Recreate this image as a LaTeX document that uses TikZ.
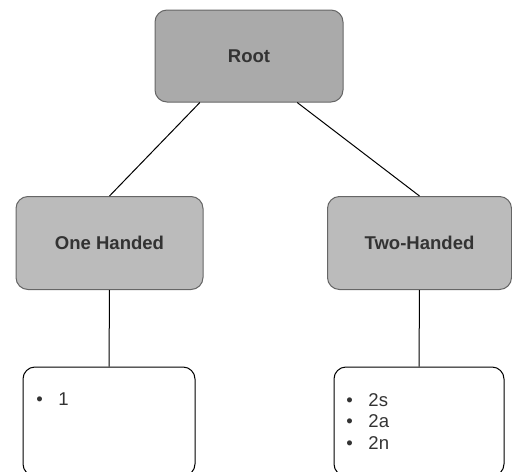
\documentclass[tikz,border=0pt]{standalone}
\usepackage{fontspec}
\setmainfont{Liberation Sans}
\usetikzlibrary{calc}

\definecolor{rootgray}{RGB}{170,170,170}
\definecolor{boxgray}{RGB}{187,187,187}
\definecolor{edgegray}{RGB}{102,102,102}
\definecolor{txtgray}{RGB}{51,51,51}

\newcommand{\itm}[1]{\makebox[16.5pt][l]{\textbullet}#1}

\tikzset{every picture/.style={line width=0.75pt}}
\tikzset{
  catbox/.style={draw=edgegray, fill=boxgray, rounded corners=9pt, inner sep=0pt,
    minimum width=140.25pt, minimum height=69.75pt, text=txtgray,
    font=\fontsize{13.9}{16}\selectfont\bfseries},
  listbox/.style={draw=black, fill=white, rounded corners=9pt, inner sep=0pt,
    minimum height=81.75pt},
  listtext/.style={anchor=west, align=left, inner sep=0pt, text=txtgray,
    font=\fontsize{13.9}{16.1}\selectfont},
}

\begin{document}
\begin{tikzpicture}[x=0.75pt,y=0.75pt,yscale=-1,xscale=1]
\useasboundingbox (0,0) rectangle (512,472);
\clip (0,0) rectangle (512,472);

%Shape: Rounded Rect [root]
\node [catbox, fill=rootgray, minimum width=141pt, minimum height=69pt] (root) at (249,56) {Root};
%Shape: Rounded Rect [one handed]
\node [catbox] (onehand) at (109.5,243) {One Handed};
%Shape: Rounded Rect [two handed]
\node [catbox, minimum width=138pt] (twohand) at (419.5,243) {Two-Handed};
%Shape: Rounded Rect [lists]
\node [listbox, minimum width=129pt] (onelist) at (109,421.5) {};
\node [listbox, minimum width=127.5pt] (twolist) at (419,421.5) {};

%Straight Lines
\draw ($(root.south west)!0.24!(root.south east)$) -- (onehand.north) ;
\draw ($(root.south west)!0.755!(root.south east)$) -- (twohand.north) ;
\draw (onehand.south) -- (onelist.north) ;
\draw (twohand.south) -- (twolist.north) ;

% Text Node
\node [listtext] (onetext) at (36,399) {\itm{1}};
% Text Node
\node [listtext] (twotext) at (346,421.5) {\itm{2s}\\ \itm{2a}\\ \itm{2n}};

\end{tikzpicture}
\end{document}
